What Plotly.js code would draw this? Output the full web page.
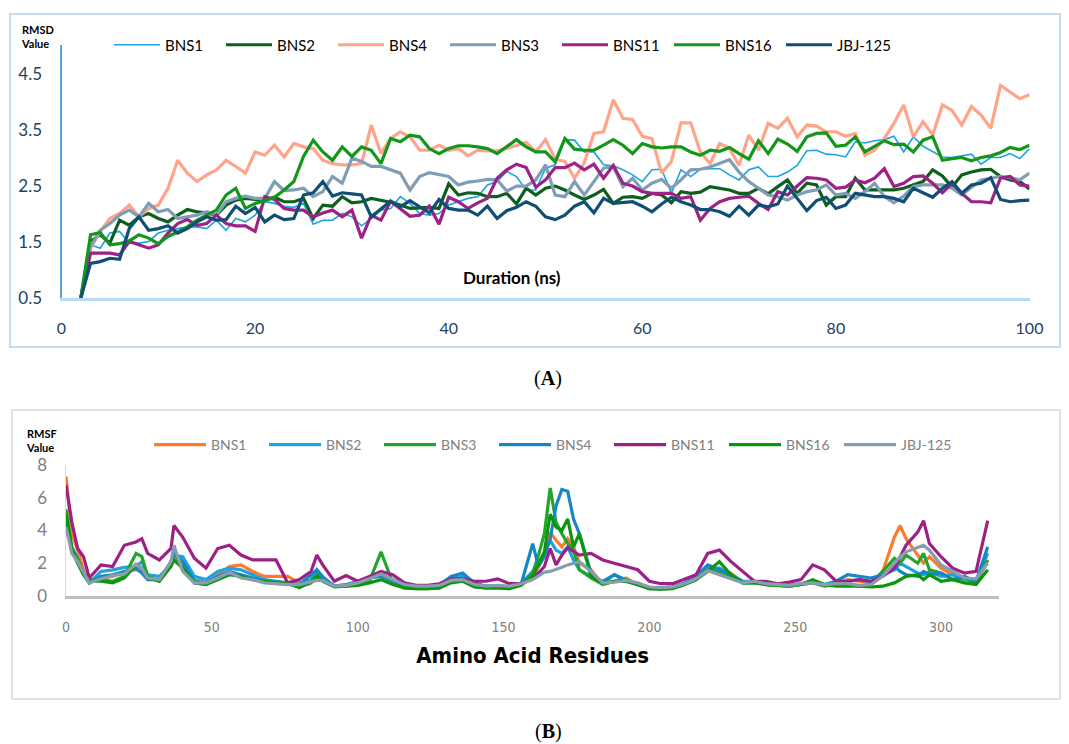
<!DOCTYPE html>
<html><head><meta charset="utf-8">
<script src="https://cdn.plot.ly/plotly-3.0.1.min.js"></script>
<style>html,body{margin:0;padding:0;background:#fff}#chart{width:1069px;height:744px}</style>
</head><body><div id="chart"></div><script>
// ---------- Panel A: RMSD vs time (ns) ----------
const timeNs = [];
for (let t = 2; t <= 100; t++) timeNs.push(t);
const rmsdBNS1 = [0.5,1.45,1.39,1.66,1.69,1.48,1.48,1.51,1.66,1.71,1.74,1.77,1.77,1.74,1.89,1.71,1.92,1.86,1.98,2.22,2.19,2.14,2.12,2.19,1.82,1.89,1.89,2.01,1.95,1.79,1.92,2.07,2.1,2.31,2.19,2.01,1.98,2.01,2.16,2.22,2.28,2.31,2.52,2.58,2.76,2.67,2.43,2.43,2.82,2.88,3.33,3.32,3.11,3.11,2.88,2.86,2.79,2.7,2.58,2.79,2.8,2.37,2.79,2.67,2.8,2.81,2.81,2.7,2.61,2.79,2.84,2.67,2.67,2.75,2.87,3.13,3.14,3.07,3.06,3.02,3.29,3.27,3.31,3.33,3.39,3.11,3.38,3.21,3.12,3.02,3.01,3.04,3.07,2.89,3.01,3.01,3.08,2.99,3.17];
const rmsdBNS2 = [0.5,1.51,1.63,1.48,1.89,1.8,1.95,2.01,1.92,1.86,1.98,2.08,2.04,2.02,1.98,2.16,2.25,2.28,2.26,2.25,2.3,2.22,2.22,2.28,1.92,2.16,2.14,2.31,2.2,2.22,2.28,2.25,2.21,2.16,2.1,2.11,2.12,2.1,2.54,2.34,2.38,2.37,2.31,2.31,2.37,2.18,2.46,2.34,2.46,2.5,2.43,2.34,2.26,2.34,2.44,2.19,2.3,2.31,2.28,2.37,2.34,2.2,2.4,2.37,2.39,2.49,2.46,2.43,2.37,2.37,2.46,2.36,2.49,2.61,2.37,2.55,2.52,2.16,2.31,2.31,2.64,2.43,2.43,2.43,2.43,2.46,2.52,2.58,2.79,2.68,2.48,2.7,2.75,2.79,2.8,2.67,2.61,2.58,2.45];
const rmsdBNS4 = [0.5,1.39,1.69,1.92,2.01,2.16,1.95,2.1,2.16,2.46,2.96,2.73,2.58,2.7,2.79,2.96,2.85,2.73,3.11,3.05,3.23,3.02,3.26,3.2,3.17,2.96,2.9,2.88,2.88,2.9,3.59,3.08,3.35,3.47,3.38,3.14,3.14,3.23,3.14,3.17,3.04,3.14,3.13,3.13,3.17,3.22,3.28,3.11,3.33,2.98,2.94,2.64,2.91,3.44,3.47,4.04,3.71,3.69,3.39,3.35,2.73,2.94,3.63,3.63,3.11,2.9,3.26,3.17,2.87,3.41,3.14,3.62,3.53,3.71,3.38,3.59,3.57,3.47,3.47,3.39,3.44,3.05,3.14,3.35,3.62,3.95,3.38,3.65,3.41,3.95,3.85,3.59,3.92,3.77,3.53,4.3,4.18,4.06,4.13];
const rmsdBNS3 = [0.5,1.42,1.71,1.83,1.98,2.07,1.95,2.19,2.04,2.08,1.92,1.95,1.98,2.04,1.98,2.22,2.28,2.32,2.28,2.28,2.58,2.42,2.43,2.46,2.31,2.4,2.67,2.55,3.0,2.94,2.85,2.85,2.79,2.73,2.43,2.67,2.74,2.71,2.67,2.52,2.57,2.59,2.62,2.61,2.41,2.5,2.5,2.61,2.88,2.34,2.31,2.58,2.34,2.58,2.82,2.85,2.49,2.64,2.43,2.55,2.62,2.46,2.61,2.79,2.8,2.84,2.9,2.97,2.75,2.58,2.46,2.34,2.31,2.25,2.34,2.4,2.43,2.52,2.34,2.37,2.28,2.4,2.55,2.31,2.2,2.32,2.49,2.52,2.52,2.52,2.46,2.34,2.48,2.61,2.64,2.67,2.65,2.61,2.73];
const rmsdBNS11 = [0.5,1.3,1.3,1.3,1.27,1.51,1.45,1.39,1.45,1.66,1.83,1.9,1.8,1.83,1.98,1.83,1.79,1.79,1.69,2.31,2.26,2.1,2.07,2.07,1.95,2.02,2.07,1.95,2.07,1.57,1.98,1.89,2.23,2.1,1.96,1.98,2.14,1.82,2.3,2.22,2.1,2.2,2.28,2.64,2.79,2.89,2.83,2.48,2.61,2.83,2.83,2.91,2.79,2.89,2.64,2.87,2.55,2.5,2.4,2.37,2.37,2.37,2.28,2.31,1.89,2.1,2.22,2.28,2.3,2.32,2.19,2.08,2.4,2.34,2.5,2.65,2.64,2.61,2.46,2.48,2.61,2.56,2.64,2.81,2.49,2.55,2.67,2.68,2.55,2.38,2.55,2.37,2.22,2.22,2.2,2.64,2.67,2.52,2.5];
const rmsdBNS16 = [0.5,1.63,1.67,1.45,1.47,1.52,1.63,1.57,1.47,1.6,1.68,1.77,1.89,1.98,2.07,2.34,2.46,2.1,2.19,2.24,2.3,2.43,2.58,3.03,3.32,3.11,2.96,3.2,3.03,3.2,3.14,2.9,3.35,3.29,3.41,3.38,3.17,3.08,3.17,3.22,3.22,3.2,3.17,3.08,3.2,3.33,3.2,3.11,3.11,2.93,3.35,3.16,3.14,3.14,3.23,3.33,3.23,3.08,3.26,3.2,3.18,3.2,3.2,3.11,3.05,3.14,3.12,3.19,3.08,2.98,3.31,3.08,3.34,3.25,3.12,3.38,3.44,3.45,3.21,3.23,3.38,3.11,3.21,3.31,3.24,3.25,3.11,3.32,3.38,2.96,2.99,3.01,2.95,3.01,3.04,3.1,3.19,3.15,3.23];
const rmsdJBJ125 = [0.5,1.12,1.15,1.21,1.19,1.74,1.95,1.71,1.74,1.79,1.66,1.74,1.86,1.95,1.89,1.9,2.14,2.01,2.12,1.86,1.98,1.9,1.92,2.34,2.38,2.58,2.32,2.38,2.36,2.34,1.95,2.09,2.23,2.13,2.24,2.13,2.02,2.26,2.1,2.07,2.07,1.98,2.14,1.92,2.06,2.12,2.22,2.14,1.95,1.9,1.98,2.14,2.22,2.02,2.28,2.19,2.2,2.22,2.14,2.04,2.18,2.3,2.22,2.16,2.08,2.08,2.04,1.96,2.14,1.98,2.16,2.13,2.18,2.5,2.28,2.06,2.24,2.3,2.1,2.16,2.37,2.34,2.31,2.31,2.28,2.22,2.46,2.38,2.3,2.46,2.58,2.37,2.52,2.55,2.65,2.26,2.22,2.24,2.25];

// ---------- Panel B: RMSF vs residue ----------
const residues = [0,2,4,6,8,12,16,20,24,26,28,32,36,37,40,44,48,52,56,60,64,68,72,76,80,84,86,88,92,96,100,104,108,112,116,120,124,128,132,136,140,144,148,152,156,160,162,164,166,168,170,172,174,176,180,184,188,192,196,200,204,208,212,216,220,224,228,232,236,240,244,248,252,256,260,264,268,272,276,280,284,286,288,292,294,296,300,304,308,312,316];
const rmsfBNS1 = [7.3,3.8,2.8,1.6,0.9,1.1,1.2,1.5,1.6,1.5,1.1,1.0,2.0,2.4,1.9,1.0,0.8,1.3,1.8,1.9,1.5,1.2,1.2,1.2,0.8,0.9,1.2,1.0,0.6,0.7,0.8,1.1,1.3,1.0,0.6,0.5,0.55,0.6,0.9,1.0,0.6,0.5,0.6,0.55,0.7,1.1,1.8,2.5,3.9,3.4,3.0,3.5,3.0,2.0,1.6,0.7,0.9,1.1,0.7,0.5,0.45,0.5,0.7,1.0,1.8,1.4,1.4,0.8,0.9,0.7,0.65,0.6,0.7,0.8,0.65,0.8,1.0,0.9,0.8,1.5,3.6,4.3,3.5,2.5,2.0,2.4,1.7,1.3,1.1,1.0,2.2];
const rmsfBNS2 = [4.3,2.8,2.2,1.4,0.8,1.5,1.6,1.75,1.8,2.1,1.3,1.2,1.9,2.5,2.4,1.2,1.0,1.5,1.7,1.6,1.3,1.0,0.9,0.8,0.7,1.0,1.6,1.2,0.6,0.7,0.9,1.1,1.3,1.0,0.6,0.5,0.55,0.65,1.1,1.2,0.7,0.6,0.6,0.55,0.75,1.5,2.0,2.6,3.4,2.8,2.6,3.0,2.2,1.6,1.2,0.9,1.3,1.0,0.7,0.5,0.5,0.55,0.75,1.1,1.7,1.7,1.3,0.9,0.9,0.8,0.7,0.65,0.75,0.9,0.7,0.75,0.9,1.0,0.85,1.3,1.6,2.0,1.8,1.4,1.3,1.5,1.2,1.3,1.0,0.9,2.6];
const rmsfBNS3 = [5.3,3.0,2.3,1.4,1.0,1.0,0.9,1.2,2.6,2.4,1.2,0.9,2.0,2.6,1.9,0.9,0.7,1.2,1.4,1.2,1.0,0.9,0.85,0.8,0.5,0.9,1.3,1.0,0.6,0.6,0.7,0.9,2.7,0.8,0.5,0.45,0.45,0.5,0.9,1.0,0.6,0.5,0.5,0.45,0.7,1.4,2.5,3.8,6.6,4.5,3.8,3.2,2.8,1.6,1.1,0.7,0.9,1.0,0.7,0.45,0.4,0.45,0.7,1.0,1.6,1.5,1.2,0.8,0.8,0.7,0.65,0.6,0.7,0.8,0.6,0.7,0.7,0.6,0.7,1.5,2.3,2.0,2.5,2.0,2.6,1.6,1.4,1.0,1.1,0.8,2.2];
const rmsfBNS4 = [4.8,2.9,2.1,1.3,0.8,1.2,1.3,1.5,1.7,1.4,1.0,1.0,2.1,2.6,2.1,0.9,0.8,1.2,1.5,1.3,1.1,0.9,0.85,0.8,0.7,1.3,1.6,1.1,0.6,0.65,0.8,1.1,1.2,0.9,0.6,0.5,0.55,0.65,1.2,1.4,0.8,0.6,0.6,0.55,0.7,3.2,1.8,2.4,3.5,5.5,6.5,6.4,4.7,3.8,1.4,0.8,1.3,0.9,0.7,0.5,0.5,0.55,0.8,1.2,1.9,1.6,1.3,0.8,0.85,0.75,0.7,0.65,0.75,0.85,0.7,0.9,1.3,1.2,1.1,1.3,1.8,1.5,1.3,1.2,1.5,1.3,1.4,1.0,1.2,0.9,3.0];
const rmsfBNS11 = [6.8,4.5,2.9,2.4,1.1,1.9,1.8,3.1,3.3,3.5,2.6,2.2,2.9,4.3,3.6,2.3,1.7,2.9,3.1,2.5,2.2,2.2,2.2,0.8,1.0,1.5,2.5,1.9,0.9,1.25,0.9,1.2,1.5,1.3,0.8,0.65,0.65,0.75,1.05,1.05,0.9,0.9,1.05,0.75,0.75,1.1,1.4,1.8,2.9,1.9,2.5,2.95,2.7,2.5,2.6,2.2,2.0,1.8,1.6,0.9,0.75,0.75,1.0,1.3,2.6,2.8,2.1,1.5,0.9,0.9,0.75,0.85,1.0,1.9,1.6,0.9,0.9,1.0,0.9,1.2,1.7,2.4,3.1,3.9,4.6,3.2,2.4,1.7,1.4,1.5,4.6];
const rmsfBNS16 = [5.0,2.8,2.0,1.3,0.9,0.9,0.8,1.1,1.9,1.7,1.1,0.9,1.8,2.2,1.7,0.8,0.7,1.0,1.3,1.2,1.0,0.9,0.8,0.75,0.55,0.8,1.2,0.9,0.55,0.6,0.65,0.8,1.0,0.7,0.5,0.45,0.45,0.5,0.8,0.9,0.55,0.5,0.5,0.45,0.65,1.2,2.0,2.7,5.0,4.2,4.0,4.7,3.0,3.8,1.2,0.8,0.9,0.9,0.7,0.45,0.45,0.5,0.7,1.0,1.5,2.1,1.3,0.8,0.8,0.7,0.65,0.6,0.7,1.0,0.7,0.6,0.6,0.6,0.55,0.6,0.8,1.0,1.2,1.3,1.0,1.3,0.9,1.0,0.8,0.7,1.6];
const rmsfJBJ125 = [4.2,2.6,2.1,1.4,0.8,1.05,1.25,1.35,1.95,1.7,1.1,1.0,2.1,3.1,1.5,0.8,0.8,1.1,1.45,1.1,1.0,0.8,0.75,0.7,0.7,0.85,0.95,0.95,0.6,0.65,0.8,1.05,1.35,1.0,0.7,0.6,0.6,0.65,0.95,1.0,0.7,0.6,0.65,0.6,0.75,1.0,1.2,1.45,1.5,1.6,1.75,1.9,2.0,2.1,1.5,0.8,0.85,0.95,0.8,0.55,0.5,0.55,0.75,1.05,1.55,1.3,1.1,0.8,0.9,0.75,0.7,0.65,0.75,0.8,0.7,0.75,0.75,0.65,0.7,1.2,2.0,2.4,2.7,3.0,3.1,2.8,1.9,1.5,1.1,1.05,2.0];

const namesA = ['BNS1','BNS2','BNS4','BNS3','BNS11','BNS16','JBJ-125'];
const seriesA = [rmsdBNS1, rmsdBNS2, rmsdBNS4, rmsdBNS3, rmsdBNS11, rmsdBNS16, rmsdJBJ125];
const colorsA = ['#1ea2e0','#0c5f1c','#ffa389','#7f9db4','#9c2286','#13971a','#0f4f74'];
const widthsA = [1.6,3.2,3.2,3.2,3.2,3.2,3.2];

const namesB = ['BNS1','BNS2','BNS3','BNS4','BNS11','BNS16','JBJ-125'];
const seriesB = [rmsfBNS1, rmsfBNS2, rmsfBNS3, rmsfBNS4, rmsfBNS11, rmsfBNS16, rmsfJBJ125];
const colorsB = ['#ff7b2b','#1ea2e0','#22a62a','#1587c6','#9b2187','#0c960e','#8a9daf'];

const W = 1069, H = 744;
const fx = p => p / W, fy = p => 1 - p / H;

const traces = [];
namesA.forEach((n, i) => traces.push({
  type:'scatter', mode:'lines', name:n, x:timeNs, y:seriesA[i],
  xaxis:'x', yaxis:'y', legend:'legend',
  line:{color:colorsA[i], width:widthsA[i]}
}));
namesB.forEach((n, i) => traces.push({
  type:'scatter', mode:'lines', name:n, x:residues, y:seriesB[i],
  xaxis:'x2', yaxis:'y2', legend:'legend2',
  line:{color:colorsB[i], width:3.2}
}));

const navy = '#243f60';
const layout = {
  width:W, height:H, margin:{l:0,r:0,t:0,b:0},
  paper_bgcolor:'#ffffff', plot_bgcolor:'rgba(0,0,0,0)',
  showlegend:true,
  font:{family:'Lato, "Open Sans", sans-serif'},
  xaxis:{domain:[fx(61.5), fx(1029.5)], range:[0,100], anchor:'y', tick0:0, dtick:20,
    showgrid:false, zeroline:false, showline:true, linecolor:'#bdd9f0', linewidth:3,
    ticks:'outside', ticklen:14, tickcolor:'rgba(0,0,0,0)',
    tickfont:{family:'Lato, sans-serif', size:16, color:navy}},
  yaxis:{domain:[fy(298), fy(45)], range:[0.5, 5.02], anchor:'x', tick0:0.5, dtick:1,
    showgrid:false, zeroline:false, showline:true, linecolor:'#5ba5dc', linewidth:2,
    ticks:'outside', ticklen:14, tickcolor:'rgba(0,0,0,0)',
    tickfont:{family:'Lato, sans-serif', size:17, color:navy}},
  xaxis2:{domain:[fx(66), fx(999.4)], range:[0,320], anchor:'y2', tick0:0, dtick:50,
    showgrid:false, zeroline:false, showline:true, linecolor:'#bfbfbf', linewidth:3,
    ticks:'outside', ticklen:16, tickcolor:'rgba(0,0,0,0)',
    tickfont:{family:'"Liberation Sans Narrow", "DejaVu Sans Condensed", sans-serif', size:14, color:'#808080'},
    title:{text:'<b>Amino Acid Residues</b>', standoff:14,
      font:{family:'"Liberation Sans Narrow", "DejaVu Sans Condensed", sans-serif', size:22, color:'#000'}}},
  yaxis2:{domain:[fy(596), fy(465)], range:[0,8], anchor:'x2', tick0:0, dtick:2,
    showgrid:false, zeroline:false, showline:true, linecolor:'#d9d9d9', linewidth:1.5,
    ticks:'outside', ticklen:14, tickcolor:'rgba(0,0,0,0)',
    tickfont:{family:'Lato, sans-serif', size:17, color:'#808080'}},
  legend:{orientation:'h', x:fx(109), y:fy(45), xanchor:'left', yanchor:'middle',
    itemwidth:46, entrywidth:51, entrywidthmode:'pixels', bgcolor:'rgba(0,0,0,0)', traceorder:'normal',
    font:{family:'Lato, sans-serif', size:15, color:'#000'}},
  legend2:{orientation:'h', x:fx(149), y:fy(445), xanchor:'left', yanchor:'middle',
    itemwidth:52, entrywidth:48, entrywidthmode:'pixels', bgcolor:'rgba(0,0,0,0)', traceorder:'normal',
    font:{family:'Lato, sans-serif', size:14, color:'#808080'}},
  shapes:[
    {type:'rect', xref:'paper', yref:'paper', x0:fx(10), x1:fx(1060), y0:fy(347), y1:fy(14),
      line:{color:'#bfdcf2', width:2}, layer:'below'},
    {type:'rect', xref:'paper', yref:'paper', x0:fx(12), x1:fx(1060), y0:fy(699), y1:fy(410),
      line:{color:'#d9d9d9', width:1.5}, layer:'below'}
  ],
  annotations:[
    {text:'<b>RMSD<br>Value</b>', xref:'paper', yref:'paper', x:fx(19), y:fy(21), xanchor:'left', yanchor:'top',
      showarrow:false, align:'left', font:{family:'Lato, sans-serif', size:11, color:'#000'}},
    {text:'<b>Duration (ns)</b>', xref:'paper', yref:'paper', x:fx(512), y:fy(277), xanchor:'center', yanchor:'middle',
      showarrow:false, font:{family:'Lato, sans-serif', size:17, color:'#000'}},
    {text:'(<b>A</b>)', xref:'paper', yref:'paper', x:fx(548), y:fy(378), xanchor:'center', yanchor:'middle',
      showarrow:false, font:{family:'"Liberation Serif", serif', size:20, color:'#000'}},
    {text:'<b>RMSF<br>Value</b>', xref:'paper', yref:'paper', x:fx(24), y:fy(425), xanchor:'left', yanchor:'top',
      showarrow:false, align:'left', font:{family:'Lato, sans-serif', size:11, color:'#000'}},
    {text:'(<b>B</b>)', xref:'paper', yref:'paper', x:fx(548), y:fy(731), xanchor:'center', yanchor:'middle',
      showarrow:false, font:{family:'"Liberation Serif", serif', size:20, color:'#000'}}
  ]
};
Plotly.newPlot('chart', traces, layout, {staticPlot:true, displayModeBar:false});
</script></body></html>
